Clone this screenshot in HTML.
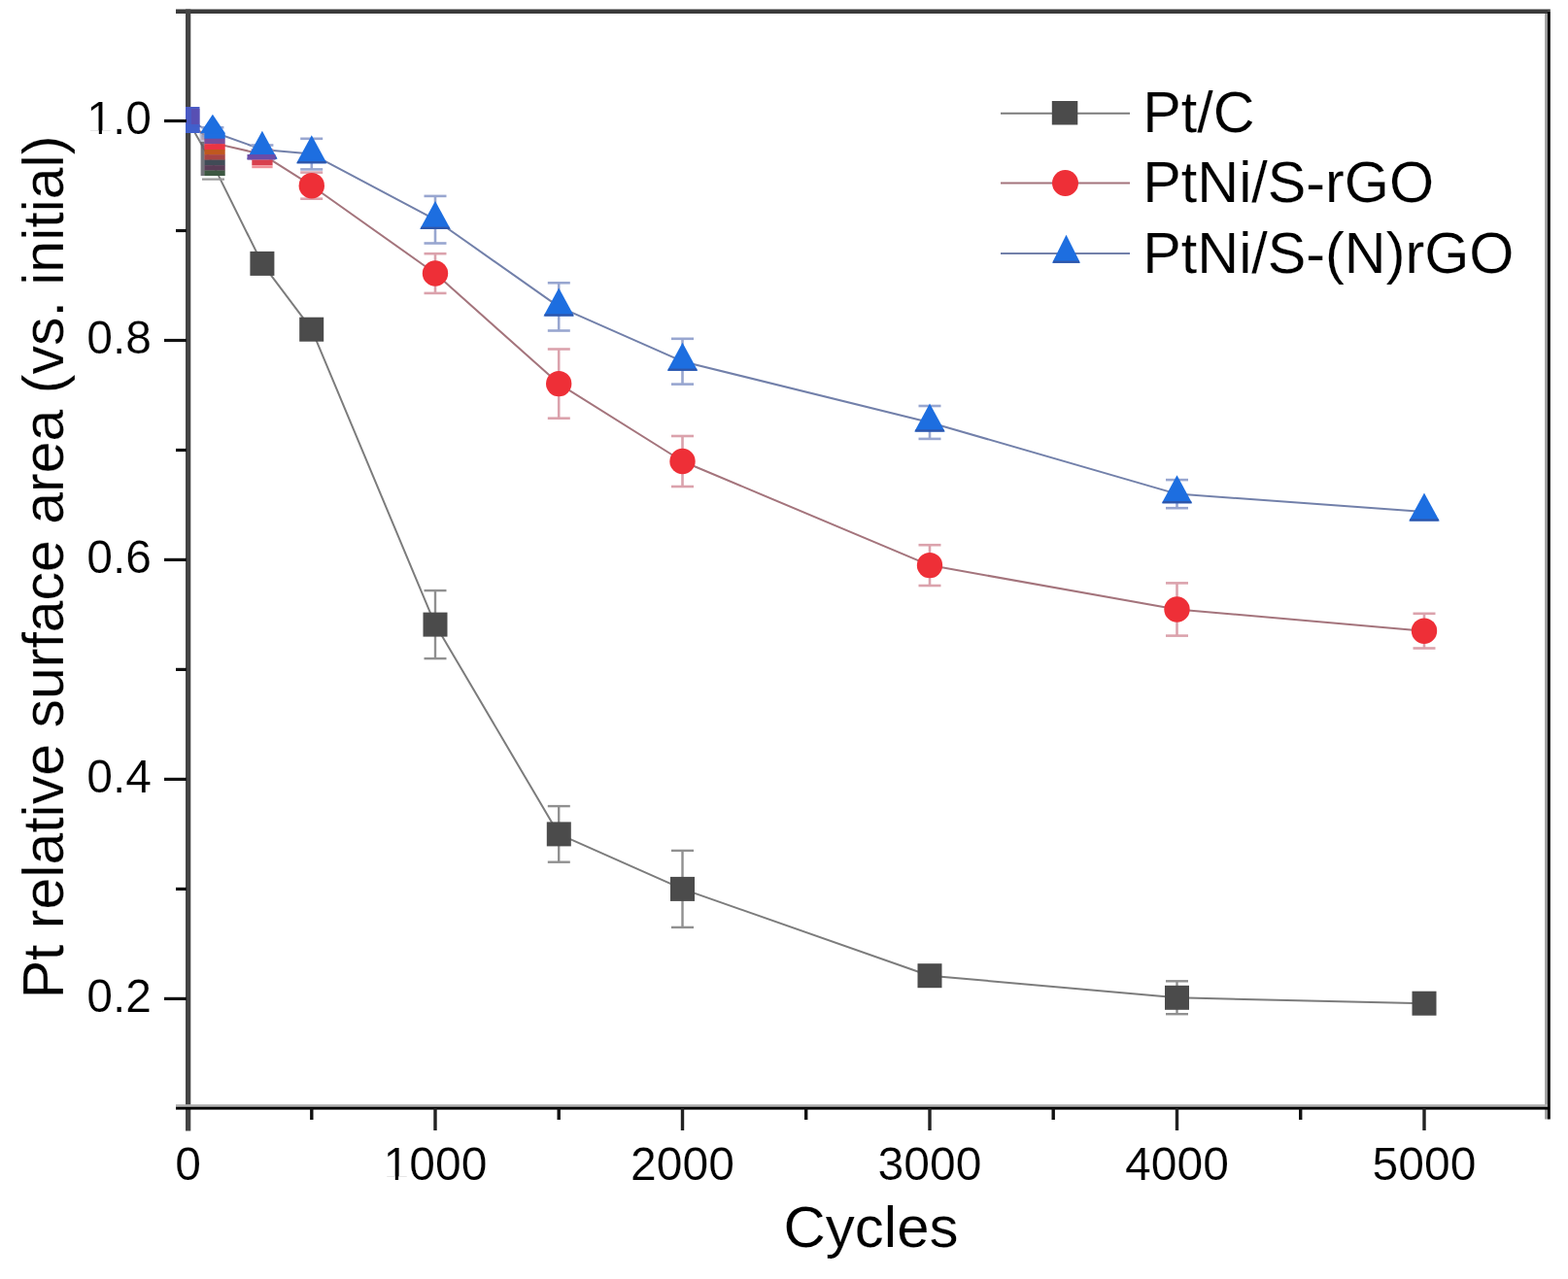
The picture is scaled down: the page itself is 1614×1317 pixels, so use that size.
<!DOCTYPE html>
<html><head><meta charset="utf-8"><title>Pt relative surface area vs cycles</title>
<style>
html,body{margin:0;padding:0;background:#fff;}
body{width:1614px;height:1317px;overflow:hidden;}
svg{display:block;}
svg text{stroke:#fff;stroke-width:0.2px;}
</style></head><body>
<svg width="1614" height="1317" viewBox="0 0 1614 1317"><defs><clipPath id="pc"><rect x="194" y="12" width="1398" height="1128"/></clipPath></defs>
<g clip-path="url(#pc)"><polyline points="193.5,124.5 218.9,168.6 269.9,271.4 320.8,339.2 448.0,643.1 575.2,858.9 702.5,915.4 957.0,1004.7 1211.5,1027.3 1466.0,1033.2" fill="none" stroke="#7c7c7c" stroke-width="2.0" stroke-linejoin="round"/><polyline points="193.5,124.5 218.9,147.1 269.9,158.8 320.8,191.2 448.0,281.5 575.2,395.1 702.5,475.0 957.0,582.1 1211.5,627.5 1466.0,649.7" fill="none" stroke="#a4747c" stroke-width="2.0" stroke-linejoin="round"/><polyline points="193.5,124.5 218.9,135.8 269.9,154.0 320.8,158.6 448.0,226.2 575.2,315.9 702.5,372.2 957.0,435.0 1211.5,508.6 1466.0,527.0" fill="none" stroke="#7280aa" stroke-width="2.0" stroke-linejoin="round"/><g stroke="#909090" stroke-width="2.4" fill="none"><line x1="448.0" y1="608.1" x2="448.0" y2="678.1"/><line x1="436.5" y1="608.1" x2="459.5" y2="608.1"/><line x1="436.5" y1="678.1" x2="459.5" y2="678.1"/><line x1="575.2" y1="830.1" x2="575.2" y2="887.7"/><line x1="563.8" y1="830.1" x2="586.8" y2="830.1"/><line x1="563.8" y1="887.7" x2="586.8" y2="887.7"/><line x1="702.5" y1="875.9" x2="702.5" y2="954.9"/><line x1="691.0" y1="875.9" x2="714.0" y2="875.9"/><line x1="691.0" y1="954.9" x2="714.0" y2="954.9"/><line x1="957.0" y1="997.9" x2="957.0" y2="1011.4"/><line x1="945.5" y1="997.9" x2="968.5" y2="997.9"/><line x1="945.5" y1="1011.4" x2="968.5" y2="1011.4"/><line x1="1211.5" y1="1010.3" x2="1211.5" y2="1044.2"/><line x1="1200.0" y1="1010.3" x2="1223.0" y2="1010.3"/><line x1="1200.0" y1="1044.2" x2="1223.0" y2="1044.2"/><line x1="1466.0" y1="1028.7" x2="1466.0" y2="1037.8"/><line x1="1454.5" y1="1028.7" x2="1477.5" y2="1028.7"/><line x1="1454.5" y1="1037.8" x2="1477.5" y2="1037.8"/></g><g stroke="#dba2ac" stroke-width="2.6" fill="none"><line x1="218.9" y1="142.6" x2="218.9" y2="151.6"/><line x1="207.4" y1="142.6" x2="230.4" y2="142.6"/><line x1="207.4" y1="151.6" x2="230.4" y2="151.6"/><line x1="269.9" y1="154.3" x2="269.9" y2="163.4"/><line x1="258.4" y1="154.3" x2="281.4" y2="154.3"/><line x1="258.4" y1="163.4" x2="281.4" y2="163.4"/><line x1="320.8" y1="177.6" x2="320.8" y2="204.7"/><line x1="309.2" y1="177.6" x2="332.2" y2="177.6"/><line x1="309.2" y1="204.7" x2="332.2" y2="204.7"/><line x1="448.0" y1="261.2" x2="448.0" y2="301.9"/><line x1="436.5" y1="261.2" x2="459.5" y2="261.2"/><line x1="436.5" y1="301.9" x2="459.5" y2="301.9"/><line x1="575.2" y1="359.5" x2="575.2" y2="430.7"/><line x1="563.8" y1="359.5" x2="586.8" y2="359.5"/><line x1="563.8" y1="430.7" x2="586.8" y2="430.7"/><line x1="702.5" y1="449.0" x2="702.5" y2="501.0"/><line x1="691.0" y1="449.0" x2="714.0" y2="449.0"/><line x1="691.0" y1="501.0" x2="714.0" y2="501.0"/><line x1="957.0" y1="561.2" x2="957.0" y2="603.0"/><line x1="945.5" y1="561.2" x2="968.5" y2="561.2"/><line x1="945.5" y1="603.0" x2="968.5" y2="603.0"/><line x1="1211.5" y1="600.4" x2="1211.5" y2="654.6"/><line x1="1200.0" y1="600.4" x2="1223.0" y2="600.4"/><line x1="1200.0" y1="654.6" x2="1223.0" y2="654.6"/><line x1="1466.0" y1="631.8" x2="1466.0" y2="667.5"/><line x1="1454.5" y1="631.8" x2="1477.5" y2="631.8"/><line x1="1454.5" y1="667.5" x2="1477.5" y2="667.5"/></g><g stroke="#98a6d0" stroke-width="2.6" fill="none"><line x1="218.9" y1="131.3" x2="218.9" y2="140.3"/><line x1="207.4" y1="131.3" x2="230.4" y2="131.3"/><line x1="207.4" y1="140.3" x2="230.4" y2="140.3"/><line x1="269.9" y1="149.5" x2="269.9" y2="158.5"/><line x1="258.4" y1="149.5" x2="281.4" y2="149.5"/><line x1="258.4" y1="158.5" x2="281.4" y2="158.5"/><line x1="320.8" y1="142.8" x2="320.8" y2="174.4"/><line x1="309.2" y1="142.8" x2="332.2" y2="142.8"/><line x1="309.2" y1="174.4" x2="332.2" y2="174.4"/><line x1="448.0" y1="201.9" x2="448.0" y2="250.5"/><line x1="436.5" y1="201.9" x2="459.5" y2="201.9"/><line x1="436.5" y1="250.5" x2="459.5" y2="250.5"/><line x1="575.2" y1="291.3" x2="575.2" y2="340.5"/><line x1="563.8" y1="291.3" x2="586.8" y2="291.3"/><line x1="563.8" y1="340.5" x2="586.8" y2="340.5"/><line x1="702.5" y1="348.8" x2="702.5" y2="395.6"/><line x1="691.0" y1="348.8" x2="714.0" y2="348.8"/><line x1="691.0" y1="395.6" x2="714.0" y2="395.6"/><line x1="957.0" y1="418.0" x2="957.0" y2="451.9"/><line x1="945.5" y1="418.0" x2="968.5" y2="418.0"/><line x1="945.5" y1="451.9" x2="968.5" y2="451.9"/><line x1="1211.5" y1="494.1" x2="1211.5" y2="523.2"/><line x1="1200.0" y1="494.1" x2="1223.0" y2="494.1"/><line x1="1200.0" y1="523.2" x2="1223.0" y2="523.2"/></g><rect x="257.4" y="258.9" width="25" height="25" fill="#4b4b4b"/><rect x="308.2" y="326.7" width="25" height="25" fill="#4b4b4b"/><rect x="435.5" y="630.6" width="25" height="25" fill="#4b4b4b"/><rect x="562.8" y="846.4" width="25" height="25" fill="#4b4b4b"/><rect x="690.0" y="902.9" width="25" height="25" fill="#4b4b4b"/><rect x="944.5" y="992.2" width="25" height="25" fill="#4b4b4b"/><rect x="1199.0" y="1014.8" width="25" height="25" fill="#4b4b4b"/><rect x="1453.5" y="1020.7" width="25" height="25" fill="#4b4b4b"/><circle cx="320.8" cy="191.2" r="13.2" fill="#ee2f37"/><circle cx="448.0" cy="281.5" r="13.2" fill="#ee2f37"/><circle cx="575.2" cy="395.1" r="13.2" fill="#ee2f37"/><circle cx="702.5" cy="475.0" r="13.2" fill="#ee2f37"/><circle cx="957.0" cy="582.1" r="13.2" fill="#ee2f37"/><circle cx="1211.5" cy="627.5" r="13.2" fill="#ee2f37"/><circle cx="1466.0" cy="649.7" r="13.2" fill="#ee2f37"/><polygon points="269.9,134.7 285.6,163.7 254.1,163.7" fill="#1d6ee0"/><rect x="255.1" y="161.5" width="29.5" height="2.2" fill="#2f55a8"/><polygon points="320.8,139.3 336.5,168.3 305.0,168.3" fill="#1d6ee0"/><rect x="306.0" y="166.1" width="29.5" height="2.2" fill="#2f55a8"/><polygon points="448.0,206.9 463.8,235.9 432.2,235.9" fill="#1d6ee0"/><rect x="433.2" y="233.7" width="29.5" height="2.2" fill="#2f55a8"/><polygon points="575.2,296.6 591.0,325.6 559.5,325.6" fill="#1d6ee0"/><rect x="560.5" y="323.4" width="29.5" height="2.2" fill="#2f55a8"/><polygon points="702.5,352.8 718.2,381.8 686.8,381.8" fill="#1d6ee0"/><rect x="687.8" y="379.6" width="29.5" height="2.2" fill="#2f55a8"/><polygon points="957.0,415.6 972.8,444.6 941.2,444.6" fill="#1d6ee0"/><rect x="942.2" y="442.4" width="29.5" height="2.2" fill="#2f55a8"/><polygon points="1211.5,489.3 1227.2,518.3 1195.8,518.3" fill="#1d6ee0"/><rect x="1196.8" y="516.1" width="29.5" height="2.2" fill="#2f55a8"/><polygon points="1466.0,507.6 1481.8,536.6 1450.2,536.6" fill="#1d6ee0"/><rect x="1451.2" y="534.4" width="29.5" height="2.2" fill="#2f55a8"/><rect x="210.2" y="136.9" width="21.5" height="6.1" fill="#1f6ee0"/><rect x="210.2" y="142.7" width="21.5" height="5.8" fill="#7a4c98"/><rect x="210.2" y="148.2" width="21.5" height="6.1" fill="#ec3442"/><rect x="210.2" y="154.0" width="21.5" height="5.4" fill="#c0581f"/><rect x="210.2" y="159.1" width="21.5" height="5.8" fill="#a84444"/><rect x="210.2" y="164.6" width="21.5" height="5.8" fill="#414b56"/><rect x="210.2" y="170.1" width="21.5" height="5.7" fill="#5a3c56"/><rect x="210.2" y="175.5" width="21.5" height="5.5" fill="#3d5842"/><rect x="205.5" y="137" width="4.8" height="9" fill="#9a9cb4" opacity="0.6"/><rect x="206.6" y="146" width="3.7" height="35" fill="#5c5c64" opacity="0.85"/><rect x="208" y="183.5" width="23" height="2.2" fill="#999"/><polygon points="218.9,117.7 231.9,137.2 205.9,137.2" fill="#1d6ee0"/><rect x="254.5" y="159" width="29" height="5.6" fill="#6a4ca8"/><rect x="259.3" y="164.6" width="21.3" height="5.6" fill="#d8404e"/><rect x="259.3" y="170.2" width="21.3" height="3" fill="#f09098"/></g>
<g>
<rect x="181" y="9.5" width="1412" height="4.5" fill="#3a3a3a"/>
<rect x="191" y="9.5" width="5.3" height="1155" fill="#444"/>
<rect x="1590.2" y="14" width="3" height="1138.5" fill="#999"/>
<rect x="1593" y="11.5" width="2.8" height="1141" fill="#000"/>
<rect x="1593" y="9.5" width="2.8" height="2" fill="#3a3a3a"/>
<rect x="181" y="1137.2" width="1412" height="2.8" fill="#b0b0b0"/>
<rect x="181" y="1139.8" width="1414" height="2.8" fill="#000"/>
</g>
<rect x="191" y="110" width="14.5" height="27" fill="#4a5ac4"/>
<rect x="197" y="112" width="8.5" height="19" fill="#5e4cae" opacity="0.75"/>
<rect x="191" y="128" width="14.5" height="9" fill="#3d62cf" opacity="0.8"/>
<rect x="169" y="122.9" width="23" height="3.2" fill="#111"/><rect x="169" y="348.9" width="23" height="3.2" fill="#111"/><rect x="169" y="574.8" width="23" height="3.2" fill="#111"/><rect x="169" y="800.8" width="23" height="3.2" fill="#111"/><rect x="169" y="1026.8" width="23" height="3.2" fill="#111"/><rect x="181" y="235.9" width="11" height="3.2" fill="#111"/><rect x="181" y="461.9" width="11" height="3.2" fill="#111"/><rect x="181" y="687.8" width="11" height="3.2" fill="#111"/><rect x="181" y="913.8" width="11" height="3.2" fill="#111"/><rect x="446.3" y="1141" width="3.4" height="23" fill="#222"/><rect x="700.8" y="1141" width="3.4" height="23" fill="#222"/><rect x="955.3" y="1141" width="3.4" height="23" fill="#222"/><rect x="1209.8" y="1141" width="3.4" height="23" fill="#222"/><rect x="1464.3" y="1141" width="3.4" height="23" fill="#222"/><rect x="319.1" y="1141" width="3.4" height="12" fill="#111"/><rect x="573.5" y="1141" width="3.4" height="12" fill="#111"/><rect x="828.0" y="1141" width="3.4" height="12" fill="#111"/><rect x="1082.5" y="1141" width="3.4" height="12" fill="#111"/><rect x="1337.0" y="1141" width="3.4" height="12" fill="#111"/>
<g font-family="'Liberation Sans', Arial, sans-serif" font-size="48" fill="#000"><text x="156" y="138.0" text-anchor="end">1.0</text><text x="156" y="364.0" text-anchor="end">0.8</text><text x="156" y="589.9" text-anchor="end">0.6</text><text x="156" y="815.9" text-anchor="end">0.4</text><text x="156" y="1041.9" text-anchor="end">0.2</text><text x="193.5" y="1215" text-anchor="middle">0</text><text x="448.0" y="1215" text-anchor="middle">1000</text><text x="702.5" y="1215" text-anchor="middle">2000</text><text x="957.0" y="1215" text-anchor="middle">3000</text><text x="1211.5" y="1215" text-anchor="middle">4000</text><text x="1466.0" y="1215" text-anchor="middle">5000</text></g>
<g fill="#fff"><rect x="91.5" y="134.3" width="10.3" height="4"/><rect x="104.9" y="134.3" width="9.5" height="4"/><rect x="397.5" y="1211.3" width="9.3" height="4"/><rect x="410.1" y="1211.3" width="9.5" height="4"/></g>
<text x="896.5" y="1284" text-anchor="middle" font-family="'Liberation Sans', Arial, sans-serif" font-size="60" fill="#000">Cycles</text>
<text transform="translate(65.3,584) rotate(-90)" text-anchor="middle" font-family="'Liberation Sans', Arial, sans-serif" font-size="59" fill="#000">Pt relative surface area (vs. initial)</text>
<line x1="1030" y1="116.7" x2="1163" y2="116.7" stroke="#7c7c7c" stroke-width="2"/><rect x="1082.8" y="104.0" width="26.5" height="24.5" fill="#4b4b4b"/><text x="1176.3" y="136.2" font-family="'Liberation Sans', Arial, sans-serif" font-size="59.3" fill="#000">Pt/C</text><line x1="1030" y1="188.5" x2="1163" y2="188.5" stroke="#a4747c" stroke-width="2"/><circle cx="1096.5" cy="188.5" r="13.5" fill="#ee2f37"/><text x="1176.3" y="208.0" font-family="'Liberation Sans', Arial, sans-serif" font-size="59.3" fill="#000">PtNi/S-rGO</text><line x1="1030" y1="261.1" x2="1163" y2="261.1" stroke="#7280aa" stroke-width="2"/><polygon points="1097.5,241.8 1112.0,270.8 1083.0,270.8" fill="#1d6ee0"/><rect x="1084.0" y="268.6" width="27.0" height="2.2" fill="#2f55a8"/><text x="1176.3" y="280.6" font-family="'Liberation Sans', Arial, sans-serif" font-size="59.3" fill="#000">PtNi/S-(N)rGO</text></svg>
</body></html>
